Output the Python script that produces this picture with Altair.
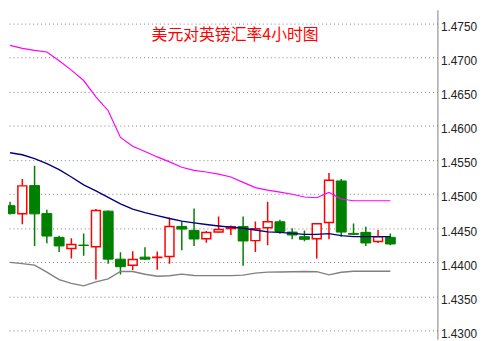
import altair as alt
import pandas as pd

# ---- data ----
idx = list(range(1, 33))
opens = [1.44829, 1.44709, 1.45123, 1.44713, 1.44365, 1.44201, 1.44252, 1.44228,
         1.44749, 1.44046, 1.43955, 1.44075, 1.44068, 1.44085, 1.44525, 1.44467,
         1.44343, 1.44442, 1.44496, 1.44525, 1.44317, 1.44506, 1.44593, 1.44442,
         1.44375, 1.44346, 1.44583, 1.45191, 1.44423, 1.44438, 1.44303, 1.44365]
highs = [1.44887, 1.45220, 1.45413, 1.44771, 1.44390, 1.44351, 1.44423, 1.44781,
         1.44757, 1.44148, 1.44162, 1.44220, 1.44158, 1.44655, 1.44597, 1.44786,
         1.44459, 1.44670, 1.44539, 1.44670, 1.44597, 1.44887, 1.44622, 1.44500,
         1.44467, 1.44564, 1.45307, 1.45220, 1.44568, 1.44520, 1.44471, 1.44423]
lows = [1.44699, 1.44558, 1.44239, 1.44278, 1.44152, 1.44057, 1.44094, 1.43746,
        1.43978, 1.43822, 1.43887, 1.44036, 1.43891, 1.43978, 1.44177, 1.44239,
        1.44286, 1.44433, 1.44399, 1.43949, 1.44152, 1.44249, 1.44419, 1.44336,
        1.44307, 1.44057, 1.44336, 1.44375, 1.44394, 1.44239, 1.44283, 1.44249]
closes = [1.44713, 1.45119, 1.44709, 1.44384, 1.44239, 1.44259, 1.44246, 1.44757,
          1.44046, 1.43935, 1.44042, 1.44046, 1.44074, 1.44525, 1.44486, 1.44341,
          1.44435, 1.44481, 1.44520, 1.44312, 1.44491, 1.44593, 1.44452, 1.44399,
          1.44336, 1.44564, 1.45201, 1.44442, 1.44409, 1.44283, 1.44375, 1.44268]
upper = [1.47177, 1.47133, 1.47104, 1.47080, 1.46952, 1.46814, 1.46662, 1.46423,
         1.46220, 1.45829, 1.45699, 1.45622, 1.45543, 1.45471, 1.45391, 1.45346,
         1.45322, 1.45290, 1.45249, 1.45170, 1.45093, 1.45056, 1.45027, 1.44996,
         1.44956, 1.44945, 1.45022, 1.44926, 1.44901, 1.44901, 1.44901, 1.44901]
middle = [1.45604, 1.45575, 1.45517, 1.45445, 1.45358, 1.45249, 1.45133, 1.45046,
          1.44952, 1.44854, 1.44778, 1.44728, 1.44684, 1.44641, 1.44603, 1.44577,
          1.44554, 1.44532, 1.44514, 1.44499, 1.44473, 1.44446, 1.44438, 1.44423,
          1.44409, 1.44409, 1.44419, 1.44391, 1.44375, 1.44375, 1.44375, 1.44375]
lower = [1.43999, 1.43980, 1.43959, 1.43855, 1.43745, 1.43691, 1.43655, 1.43713,
         1.43757, 1.43865, 1.43864, 1.43825, 1.43796, 1.43803, 1.43826, 1.43807,
         1.43804, 1.43804, 1.43804, 1.43812, 1.43841, 1.43855, 1.43858, 1.43862,
         1.43865, 1.43862, 1.43815, 1.43854, 1.43868, 1.43868, 1.43868, 1.43868]
tick_values = [1.4300, 1.4350, 1.4400, 1.4450, 1.4500, 1.4550,
               1.4600, 1.4650, 1.4700, 1.4750]
title_text = "美元对英镑汇率4小时图"

df = pd.DataFrame({"i": idx, "o": opens, "h": highs, "l": lows, "c": closes})
df["dir"] = ["up" if c >= o else "down" for o, c in zip(opens, closes)]
bands = pd.DataFrame({"i": idx, "upper": upper, "middle": middle, "lower": lower})

xs = alt.Scale(domain=[1.2364, 35.436], nice=False, zero=False)
ys = alt.Scale(domain=[1.428725, 1.476986], nice=False, zero=False)

yaxis = alt.Axis(orient="right", values=tick_values, format=".4f", title=None,
                 grid=True, gridColor="#808080", gridDash=[1, 3], gridWidth=1,
                 ticks=False, tickSize=0, domain=True, domainColor="#808080",
                 domainWidth=1, labelColor="#222222", labelFontSize=12,
                 labelFont="Liberation Sans", labelPadding=3,
                 labelBaseline="top", labelOffset=-2, labelFlush=False,
                 labelOverlap=False)

X = alt.X("i:Q", scale=xs, axis=None)

base = alt.Chart(df)

wicks = base.mark_rule(strokeWidth=1.5, clip=True).encode(
    x=X,
    y=alt.Y("l:Q", scale=ys, axis=yaxis),
    y2="h:Q",
    color=alt.Color("dir:N", scale=alt.Scale(domain=["up", "down"],
                                             range=["#FF0000", "#008000"]),
                    legend=None),
)

body_up = base.transform_filter("datum.dir == 'up'").mark_bar(
    size=9, fill="white", stroke="#FF0000", strokeWidth=1.5, clip=True
).encode(x=X, y=alt.Y("o:Q", scale=ys, axis=yaxis), y2="c:Q")

body_down = base.transform_filter("datum.dir == 'down'").mark_bar(
    size=10, fill="#008000", stroke="#008000", strokeWidth=1, clip=True
).encode(x=X, y=alt.Y("o:Q", scale=ys, axis=yaxis), y2="c:Q")

bb = alt.Chart(bands)
line_up = bb.mark_line(color="#FF00FF", strokeWidth=1.2, clip=True).encode(
    x=X, y=alt.Y("upper:Q", scale=ys, axis=yaxis))
line_mid = bb.mark_line(color="#000080", strokeWidth=1.4, clip=True).encode(
    x=X, y=alt.Y("middle:Q", scale=ys, axis=yaxis))
line_low = bb.mark_line(color="#808080", strokeWidth=1.4, clip=True).encode(
    x=X, y=alt.Y("lower:Q", scale=ys, axis=yaxis))

title = alt.Chart(pd.DataFrame({"t": [title_text]})).mark_text(
    color="#FF0000", fontSize=16, font="Noto Sans CJK SC",
    align="center", baseline="middle"
).encode(x=alt.value(229.5), y=alt.value(25.5), text="t:N")

chart = alt.layer(wicks, body_up, body_down, line_low, line_mid, line_up, title).properties(
    width=434, height=333,
    autosize=alt.AutoSizeParams(type="none"),
    padding={"left": 0, "top": 0, "right": 40, "bottom": 0},
    background="white",
).configure_view(strokeWidth=0)

chart.save("out.html", embed_options={"renderer": "svg", "actions": False})
